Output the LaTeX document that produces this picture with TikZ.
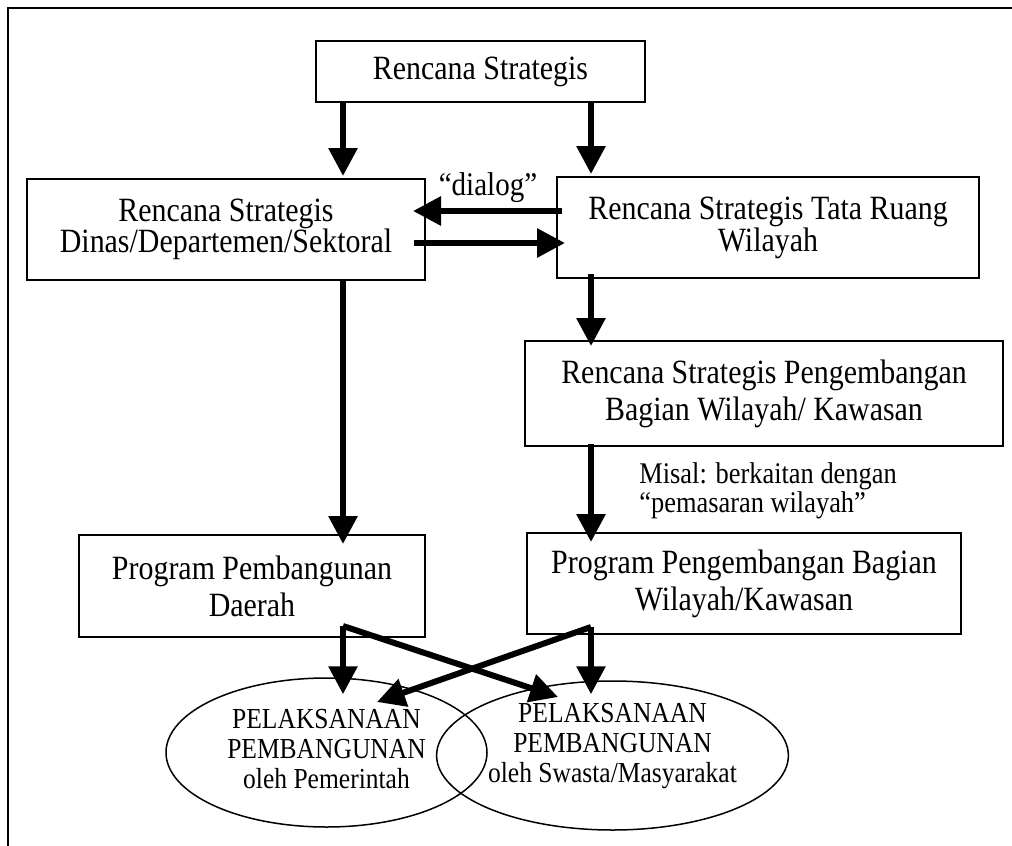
\documentclass[tikz,border=0pt]{standalone}
\usepackage{fontspec}
\setmainfont{Liberation Serif}[FakeStretch=0.88]
\usetikzlibrary{arrows.meta,shapes.geometric,calc}
\begin{document}
\begin{tikzpicture}[x=0.5pt,y=-0.5pt,
  box/.style={draw,line width=1pt,inner sep=0pt,align=center},
  boxfont/.style={font=\fontsize{17}{#1}\selectfont},
  oval/.style={draw,ellipse,line width=0.75pt,inner sep=0pt,align=center,
    minimum width=160.5pt,minimum height=74.5pt,font=\fontsize{14.5}{15}\selectfont},
  flow/.style={line width=3pt,-{Triangle[length=14pt,width=14pt]}},
  note/.style={font=\fontsize{15}{13.5}\selectfont,align=left,inner sep=0pt},
  frameline/.style={line width=1pt}]
\useasboundingbox (0,0) rectangle (1012,846);
% open frame: top and left edges
\draw[frameline] (8,846) -- (8,8) -- (1012,8);

% planning boxes
\node[box,boxfont=18.5,minimum width=164.5pt,minimum height=30.5pt] (A) at (480.5,71.5) {Rencana Strategis};
\node[box,boxfont=15.5,minimum width=199pt,minimum height=50.5pt] (B) at (226,229.5)
  {Rencana Strategis\\Dinas/Departemen/Sektoral};
\node[box,boxfont=16,minimum width=211pt,minimum height=50.5pt] (C) at (768,227.5)
  {Rencana Strategis Tata Ruang\\Wilayah};
\node[box,boxfont=18.5,minimum width=239pt,minimum height=52.5pt] (D) at (764,393.5)
  {Rencana Strategis Pengembangan\\Bagian Wilayah/ Kawasan};
\node[box,boxfont=18.5,minimum width=217pt,minimum height=50.5pt] (E) at (744,583.5)
  {Program Pengembangan Bagian\\Wilayah/Kawasan};
\node[box,boxfont=18.5,minimum width=173pt,minimum height=51pt] (F) at (252,586)
  {Program Pembangunan\\Daerah};

% implementation ellipses
\node[oval] (L) at (326.5,752.5)
  {PELAKSANAAN\\PEMBANGUNAN\\oleh Pemerintah\rule[-4pt]{0pt}{0pt}};
\node[oval] (R) at (612.5,755.5)
  {PELAKSANAAN\\PEMBANGUNAN\\oleh Swasta/Masyarakat\rule[-13pt]{0pt}{0pt}};

% labels
\node[font=\fontsize{16.5}{18}\selectfont,inner sep=0pt,anchor=base] (dlg) at (488,195) {“dialog”};
\node[note,anchor=west] (misal) at (639,491) {Misal: berkaitan dengan\\“pemasaran wilayah”};

% column guides for the vertical connectors
\coordinate (colL) at (343,0);
\coordinate (colR) at (591,0);
\coordinate (dlgTop) at (0,211);
\coordinate (dlgBot) at (0,243);

% top level
\draw[flow] (A.south -| colL) -- ([yshift=1pt]B.north -| colL);
\draw[flow] (A.south -| colR) -- ([yshift=1pt]C.north -| colR);

% dialog between sector and spatial plans
\draw[flow] ([xshift=3pt]C.west |- dlgTop) -- ([xshift=-6.5pt]B.east |- dlgTop);
\draw[flow] ([xshift=-6pt]B.east |- dlgBot) -- ([xshift=4.5pt]C.west |- dlgBot);

% downward chain
\draw[flow] (B.south -| colL) -- ([yshift=-5pt]F.north -| colL);
\draw[flow] ([yshift=2.5pt]C.south -| colR) -- ([yshift=-3pt]D.north -| colR);
\draw[flow] ([yshift=1.5pt]D.south -| colR) -- ([yshift=-5pt]E.north -| colR);

% programmes to implementation
\coordinate (fOut) at ($(F.south -| colL)+(0,-12)$);
\coordinate (eOut) at ($(E.south -| colR)+(0,-8)$);
\draw[flow] (fOut) -- ([yshift=-8.5pt]L.north -| colL);
\draw[flow] (eOut) -- ([yshift=-7pt]R.north -| colR);
\draw[flow] (fOut) -- ($(R.center)+(-54.5,-58.5)$);
\draw[flow] (eOut) -- ($(L.center)+(50.5,-50.5)$);
\end{tikzpicture}
\end{document}
